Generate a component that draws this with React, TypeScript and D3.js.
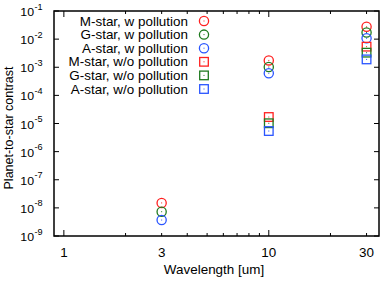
import React from "react";
import * as d3 from "d3";

const wavelengths = [3, 10, 30];
const seriesNames = [
  "M-star, w pollution",
  "G-star, w pollution",
  "A-star, w pollution",
  "M-star, w/o pollution",
  "G-star, w/o pollution",
  "A-star, w/o pollution",
];
const seriesShapes = ["circle", "circle", "circle", "square", "square", "square"];
const seriesColors = ["#ff2020", "#1f7a1f", "#2a55ff", "#ff2020", "#1f7a1f", "#2a55ff"];
// values at 3, 10, 30 um (null = not plotted)
const mStarW = [1.5e-8, 1.75e-3, 2.75e-2];
const gStarW = [7.3e-9, 1.02e-3, 1.72e-2];
const aStarW = [3.7e-9, 6.1e-4, 1.07e-2];
const mStarWo = [null, 1.7e-5, 5.4e-3];
const gStarWo = [null, 1.02e-5, 3.3e-3];
const aStarWo = [null, 5.4e-6, 1.9e-3];
const seriesValues = [mStarW, gStarW, aStarW, mStarWo, gStarWo, aStarWo];

const yTickExps = [-1, -2, -3, -4, -5, -6, -7, -8, -9];
const xTickLabels = [1, 3, 10, 30];
const xMinorTicks = [2, 3, 4, 5, 6, 7, 8, 9, 20, 30];
const xMajorTicks = [1, 10];

const SX = 1.075;

function Txt({ x, y, anchor = "start", size = 12.5, children }: any) {
  return (
    <text transform={`translate(${x},${y}) scale(${SX},1)`} fontSize={size} textAnchor={anchor}>
      {children}
    </text>
  );
}

export default function App() {
  const W = 381, H = 282;
  const L = 54, R = 379, T = 11, B = 236;
  const x = d3.scaleLog().domain([0.895, 34.5]).range([L, R]);
  const y = d3.scaleLog().domain([1e-9, 1e-1]).range([B, T]);
  const font = "'Liberation Sans', Arial, Helvetica, sans-serif";

  const marker = (shape: string, color: string, cx: number, cy: number, key: string) =>
    shape === "circle" ? (
      <g key={key}>
        <circle cx={cx} cy={cy} r={4.6} fill="none" stroke={color} strokeWidth={1.3} />
        <rect x={cx - 0.5} y={cy - 0.5} width={1} height={1} fill={color} />
      </g>
    ) : (
      <g key={key}>
        <rect x={cx - 4.3} y={cy - 4.3} width={8.6} height={8.6} fill="none" stroke={color} strokeWidth={1.3} />
        <rect x={cx - 0.5} y={cy - 0.5} width={1} height={1} fill={color} />
      </g>
    );

  return (
    <svg width={W} height={H} style={{ position: "absolute", left: 0, top: 0 }} fontFamily={font}>
      <rect width={W} height={H} fill="#fff" />
      {yTickExps.map((e) => {
        const yy = y(Math.pow(10, e));
        return (
          <g key={"yt" + e}>
            <line x1={L} x2={L + 5} y1={yy} y2={yy} stroke="#000" strokeWidth={1} />
            <line x1={R} x2={R - 5} y1={yy} y2={yy} stroke="#000" strokeWidth={1} />
            <Txt x={34} y={yy + 5} anchor="end" size={11.5}>10</Txt>
            <Txt x={34.5} y={yy - 1.5} size={8.5}>{String(e)}</Txt>
          </g>
        );
      })}
      {xMajorTicks.map((v) => (
        <g key={"xM" + v}>
          <line x1={x(v)} x2={x(v)} y1={B} y2={B - 6} stroke="#000" />
          <line x1={x(v)} x2={x(v)} y1={T} y2={T + 6} stroke="#000" />
        </g>
      ))}
      {xMinorTicks.map((v) => (
        <g key={"xm" + v}>
          <line x1={x(v)} x2={x(v)} y1={B} y2={B - 3} stroke="#000" />
          <line x1={x(v)} x2={x(v)} y1={T} y2={T + 3} stroke="#000" />
        </g>
      ))}
      {xTickLabels.map((v) => (
        <Txt key={"xl" + v} x={x(v)} y={257} anchor="middle">{v}</Txt>
      ))}
      <rect x={L} y={T} width={R - L} height={B - T} fill="none" stroke="#000" strokeWidth={1.5} />
      {seriesValues.map((vals, si) =>
        vals.map((v, i) =>
          v == null ? null : marker(seriesShapes[si], seriesColors[si], x(wavelengths[i]), y(v), `p${si}-${i}`)
        )
      )}
      {seriesNames.map((n, i) => {
        const ly = 21 + i * 13.6;
        return (
          <g key={"lg" + i}>
            <Txt x={188} y={ly + 4.5} anchor="end">{n}</Txt>
            {marker(seriesShapes[i], seriesColors[i], 204, ly, "lm" + i)}
          </g>
        );
      })}
      <Txt x={214} y={273.5} anchor="middle">Wavelength [um]</Txt>
      <text transform={`translate(12.5,128) rotate(-90)`} fontSize={12.5} textAnchor="middle">Planet-to-star contrast</text>
    </svg>
  );
}
